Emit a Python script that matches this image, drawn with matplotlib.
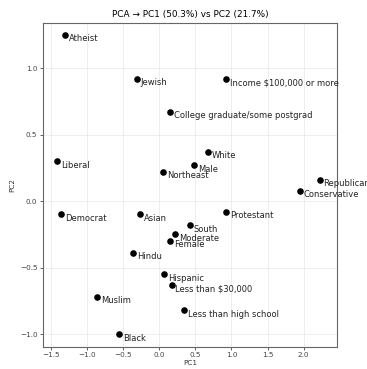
import matplotlib.pyplot as plt

labels = ["Atheist", "Jewish", "Income $100,000 or more", "College graduate/some postgrad",
          "White", "Male", "Northeast", "Liberal", "Republican", "Conservative",
          "Democrat", "Asian", "Protestant", "South", "Moderate", "Female", "Hindu",
          "Hispanic", "Less than $30,000", "Muslim", "Less than high school", "Black"]
pc1 = [-1.30, -0.31, 0.92, 0.15, 0.67, 0.48, 0.05, -1.41, 2.22, 1.95,
       -1.36, -0.26, 0.93, 0.42, 0.22, 0.15, -0.36,
       0.07, 0.17, -0.86, 0.34, -0.56]
pc2 = [1.25, 0.92, 0.92, 0.67, 0.37, 0.27, 0.22, 0.30, 0.16, 0.08,
       -0.10, -0.10, -0.08, -0.18, -0.25, -0.30, -0.39,
       -0.55, -0.63, -0.72, -0.82, -1.00]

fig = plt.figure(figsize=(3.67, 3.69), dpi=100)
ax = fig.add_axes([0.117, 0.06, 0.801, 0.878])

ax.scatter(pc1, pc2, s=14, color="black", zorder=3)
for lab, x, y in zip(labels, pc1, pc2):
    ax.annotate(lab, (x, y), xytext=(2.8, -2.8), textcoords="offset points",
                ha="left", va="center", fontsize=6, color="#222222",
                annotation_clip=False)

ax.set_xlim(-1.61, 2.46)
ax.set_ylim(-1.095, 1.34)
ax.set_xticks([-1.5, -1.0, -0.5, 0.0, 0.5, 1.0, 1.5, 2.0])
ax.set_yticks([-1.0, -0.5, 0.0, 0.5, 1.0])
ax.tick_params(labelsize=5.2, colors="#444444", length=2.5, width=0.6, pad=1.5)
ax.grid(True, color="#e8e8e8", linewidth=0.5)
ax.set_axisbelow(True)
for sp in ax.spines.values():
    sp.set_color("#666666")
    sp.set_linewidth(0.8)
ax.set_xlabel("PC1", fontsize=5.2, labelpad=1.5, color="#333333")
ax.set_ylabel("PC2", fontsize=5.2, labelpad=3, color="#333333")
ax.set_title("PCA \u2192 PC1 (50.3%) vs PC2 (21.7%)", fontsize=6.4, pad=4)

fig.savefig("out.png", dpi=100)
